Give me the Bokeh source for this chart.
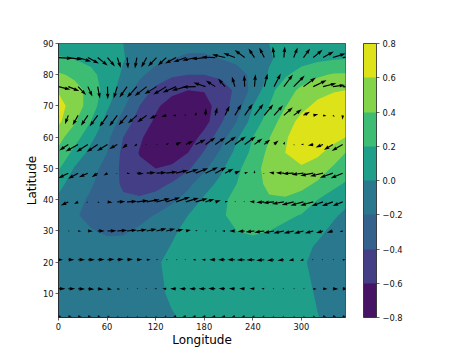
import numpy as np
from bokeh.plotting import figure
from bokeh.embed import file_html
from bokeh.resources import INLINE
from bokeh.models import ColorBar, LinearColorMapper, FixedTicker

levels = [-0.8, -0.6, -0.4, -0.2, 0.0, 0.2, 0.4, 0.6, 0.8]
band_colors = ["#471365", "#433e85", "#33638d", "#2a788e", "#1f9e89", "#3dbc74", "#84d44b", "#dde318"]
x_ticks = [0, 60, 120, 180, 240, 300]
y_ticks = [10, 20, 30, 40, 50, 60, 70, 80, 90]
bar_ticks = levels
bar_labels = ["\u22120.8", "\u22120.6", "\u22120.4", "\u22120.2", "0.0", "0.2", "0.4", "0.6", "0.8"]

field_lons = [0, 20, 40, 60, 80, 100, 120, 140, 160, 180, 200, 220, 240, 260, 280, 300, 320, 340, 354.4]
field_lats = [2.3, 10, 20, 25, 30, 35, 40, 45, 50, 55, 60, 65, 70, 75, 80, 85, 90]

z_02 = [-.04, -.05, -.06, -.06, -.06, -.05, -.03, -.01, .02, .04, .05, .06, .06, .05, .04, .02, .003, -.03, -.04]
z_10 = [-.06, -.07, -.08, -.09, -.08, -.06, -.03, .02, .05, .07, .08, .09, .09, .08, .06, .03, -.01, -.05, -.06]
z_20 = [-.07, -.09, -.11, -.12, -.11, -.08, -.02, .04, .07, .09, .11, .12, .12, .11, .08, .02, -.04, -.07, -.08]
z_25 = [-.08, -.11, -.14, -.16, -.15, -.12, -.07, .01, .05, .09, .12, .14, .15, .14, .11, .05, -.02, -.07, -.09]
z_30 = [-.09, -.14, -.19, -.22, -.22, -.17, -.11, -.03, .05, .11, .16, .20, .22, .20, .15, .11, .04, -.04, -.08]
z_35 = [-.09, -.18, -.25, -.29, -.30, -.26, -.19, -.10, .00, .10, .18, .24, .27, .27, .24, .19, .10, .02, -.03]
z_40 = [-.03, -.14, -.23, -.32, -.37, -.37, -.32, -.24, -.12, .03, .16, .25, .33, .38, .38, .32, .20, .10, .04]
z_45 = [.05, -.08, -.18, -.30, -.43, -.50, -.47, -.38, -.25, -.08, .05, .20, .33, .44, .49, .46, .37, .25, .18]
z_50 = [.22, -.02, -.13, -.27, -.45, -.56, -.60, -.57, -.43, -.24, -.04, .15, .33, .47, .56, .58, .50, .37, .30]
z_55 = [.36, .14, -.06, -.20, -.45, -.61, -.68, -.68, -.60, -.38, -.17, .06, .25, .45, .60, .67, .64, .51, .40]
z_60 = [.46, .29, .05, -.15, -.40, -.57, -.70, -.77, -.73, -.52, -.30, -.03, .20, .39, .58, .70, .72, .67, .60]
z_65 = [.64, .42, .20, -.07, -.28, -.49, -.63, -.74, -.78, -.68, -.43, -.20, .08, .30, .49, .67, .75, .78, .78]
z_70 = [.68, .50, .31, .03, -.17, -.40, -.57, -.68, -.72, -.67, -.52, -.30, .00, .20, .39, .54, .65, .72, .75]
z_75 = [.58, .47, .34, .10, -.09, -.28, -.45, -.55, -.60, -.59, -.50, -.36, -.14, .13, .32, .44, .53, .58, .60]
z_80 = [.43, .36, .25, .12, -.03, -.16, -.28, -.37, -.40, -.40, -.36, -.27, -.16, .02, .17, .30, .37, .42, .42]
z_85 = [.21, .20, .15, .09, .01, -.07, -.14, -.20, -.23, -.23, -.20, -.16, -.09, -.02, .06, .11, .16, .19, .20]
z_90 = [.16, .14, .10, .05, .00, -.05, -.10, -.13, -.15, -.15, -.13, -.09, -.04, .00, .05, .10, .13, .16, .16]
z_rows = [z_02, z_10, z_20, z_25, z_30, z_35, z_40, z_45, z_50, z_55, z_60, z_65, z_70, z_75, z_80, z_85, z_90]

wind_lats = [85.5, 76.2, 67.0, 57.7, 48.5, 39.3, 30.0, 20.8, 11.5, 2.7]
wind_lon_step = 12.1

u_85 = [14, 14, 13, 11, 10, 7.5, 3.5, 1, -2, -5.5, -8.5, -8.5, -11, -12.5, -13.5, -14, -14, -13, -11.5, -10, -6, -5, -1.3, 1, 4, 6.7, 9.3, 10.7, 12.7, 13]
v_85 = [-1, -2, -4, -6, -8, -9, -10.5, -11, -11, -10, -9, -8, -6, -4.5, -3, -1.5, .5, 3, 4.5, 7.5, 9, 10, 10.7, 11, 10, 9, 7.7, 6, 4, 2]
u_76 = [12, 11, 8, 4.5, 2.3, .3, -3.7, -7.7, -10, -12, -12, -13, -13.5, -14, -13.5, -12, -9.5, -7, -3, -.5, 1, 3.3, 6.7, 9, 11, 12.3, 13.3, 13.3, 12.3, 12]
v_76 = [-3, -4.5, -8.5, -10, -12, -12.7, -12, -11, -11, -9.5, -7.5, -8, -6, -4, -.5, 4, 6, 8, 10, 11.5, 12.3, 13, 13, 12, 11, 9, 6.3, 3.3, 1.7, -1]
u_67 = [.3, -3.3, -5.5, -7, -8, -8, -8, -8.5, -9, -9.5, -7, -5, -3.5, -2, .5, .5, 2, 4.5, 6.5, 8, 9, 9, 9, 9, 8, 6.5, 5, 3.5, 2, 0]
v_67 = [-.5, -9, -10, -10.5, -11, -11.5, -11, -10, -8, -7, -3.5, -1.5, -.5, .5, 3.5, 7, 8, 9.5, 11, 11.5, 11.5, 11, 10, 8, 6, 3.5, 1, -.7, -1.5, -4.5]
u_58 = [-10, -9, -12.5, -11.5, -11, -10.5, -8, -5, -3, -1, 1, 3, 5.5, 7.5, 10, 10, 10, 11, 11, 11, 8, 6, 4.5, 1, .5, -2.5, -5.5, -7.5, -9, -11]
v_58 = [-6, -6, -7, -7.5, -7.5, -6.7, -4.5, -4, -2, .3, -.5, 1, 2.3, 3.5, 5, 7, 7, 8, 8, 8, 6, 5, 4, 3, -.5, 0, -1, -3, -5.5, -6.5]
u_48 = [-10, -10, -10, -9, -6, -4, -.7, 3, 7, 9, 10, 11, 12, 12.5, 12.5, 12.5, 11, 8.5, 5.5, 3.5, 0, -1, -5, -8, -11, -12, -13, -13, -13, -12]
v_48 = [-5, -5, -5.5, -4, -4, -2.3, -.3, -.7, -.5, .7, .7, 1.5, 3, 4, 5, 6, 6, 4.5, 2.5, 1, 3, -.5, 1, .5, -.5, -1.5, -2.5, -3, -4.5, -5]
u_39 = [-8, -7.5, -4, -1.5, 2, 5, 8, 10, 11.5, 13, 13.5, 14, 14, 13, 12, 9, 5.5, 3, .5, -.7, -5, -8, -11, -12, -12, -13, -13, -11.5, -11, -10]
v_39 = [-3, -3.5, -2, -.7, -1.2, -.7, .3, .7, 1.5, 2.5, 3.5, 4.5, 5, 4, 3.5, 3, 1.7, 1, .5, .3, .3, -.5, -1, -2, -3, -3.5, -3.5, -4, -4, -4]
u_30 = [.2, .3, 3, 5, 7, 9, 10, 10, 10, 10, 10, 9, 7.5, 5, 2, .5, .2, -3, -5.5, -7, -9, -10, -10.5, -10.5, -10, -9.5, -8.5, -7, -6, -3]
v_30 = [0, 0, -.3, -.3, 0, .3, .7, 1, 1.5, 2, 2.5, 2.3, 1.8, 1, 1, 0, 0, 0, 0, -.5, -1, -1.5, -2, -2.3, -2.3, -2.5, -2.3, -2, -1.7, -1]
u_21 = [4.5, 6, 7, 7, 7, 7, 6.5, 6, 5.5, 4, 2, .5, .4, -.7, -3, -4, -6, -7, -7.5, -8, -8, -8, -7, -6.5, -5, -3.5, -1.5, -.5, .5, 3]
v_21 = [0, 0, 0, 0, .3, .5, .5, .5, .3, 0, 0, 0, 0, 0, 0, 0, 0, 0, 0, -.3, -.3, -.7, -.7, -.7, -.7, -.7, 0, 0, 0, 0]
u_11 = [7, 7, 7, 6.5, 6, 4.5, 3, 1.2, .3, -.7, -2, -4, -6, -6.5, -6.5, -7, -7, -6.5, -6, -5.5, -5, -3, -1.5, -.5, .5, 1, 3.5, 4.5, 5.5, 5.5]
v_11 = [0, 0, -.3, -.5, -.7, -.7, -.5, -.3, 0, 0, 0, 0, 0, 0, 0, 0, .3, .3, .3, .3, .3, .3, 0, 0, 0, 0, -.3, -.3, -.3, 0]
u_02 = [3, 3.5, 3.5, 3.5, 3, 2.5, 1.5, .7, 0, -.3, -1, -2, -3, -3.5, -3.5, -3.5, -3.5, -3.5, -3, -3, -2.5, -2, -1, -.3, .3, 1, 2, 3, 3.5, 3.5]
v_02 = [0] * 30
wind_u = [u_85, u_76, u_67, u_58, u_48, u_39, u_30, u_21, u_11, u_02]
wind_v = [v_85, v_76, v_67, v_58, v_48, v_39, v_30, v_21, v_11, v_02]

FW, FH = 287, 274
XR = (0, 354.4)
YR = (2.3, 90)
px_x = FW / (XR[1] - XR[0])
px_y = FH / (YR[1] - YR[0])

p = figure(width=430, height=340, frame_width=FW, frame_height=FH, x_range=XR, y_range=YR,
           output_backend="svg", toolbar_location=None,
           min_border_left=58, min_border_top=43, min_border_bottom=24, min_border_right=0,
           x_axis_label="Longitude", y_axis_label="Latitude")
p.background_fill_color = "white"
p.grid.visible = False
p.outline_line_color = "#222222"
p.outline_line_width = 0.8

zgrid = np.array(z_rows, dtype=float)
# bands painted lowest first, each one reaching the top level, so no seams show between them
for low, color in zip(levels[:-1], band_colors):
    p.contour(field_lons, field_lats, zgrid, levels=[low, 0.8], fill_color=[color], line_color=None)

# quiver arrows: tail at grid point, polygons built in screen units from (u, v)
SHAFT = 1.15
xs, ys = [], []
for lat, us, vs in zip(wind_lats, wind_u, wind_v):
    for k, (u, v) in enumerate(zip(us, vs)):
        L = float(np.hypot(u, v))
        x0 = k * wind_lon_step
        if L < 1e-6:
            L, u, v = 0.4, 0.4, 0.0
        hl, hw, ha, sw = 5 * SHAFT, 3.2 * SHAFT, 4.5 * SHAFT, SHAFT
        if L < hl:
            f = max(L / hl, 0.25)
            hl, hw, ha, sw = hl * f, hw * f, ha * f, sw * f
            L = max(L, hl)
        along = np.array([0, L - ha, L - hl, L, L - hl, L - ha, 0])
        across = np.array([sw / 2, sw / 2, hw / 2, 0, -hw / 2, -sw / 2, -sw / 2])
        ang = np.arctan2(v, u)
        c, s = np.cos(ang), np.sin(ang)
        xs.append((x0 + (along * c - across * s) / px_x).tolist())
        ys.append((lat + (along * s + across * c) / px_y).tolist())
p.patches(xs, ys, fill_color="black", line_color=None)

for ax in (p.xaxis[0], p.yaxis[0]):
    ax.axis_line_color = "#222222"
    ax.axis_line_width = 0.8
    ax.major_tick_line_color = "#222222"
    ax.major_tick_line_width = 0.7
    ax.major_tick_out = 3
    ax.major_tick_in = 0
    ax.minor_tick_line_color = None
    ax.major_label_text_font = "DejaVu Sans"
    ax.major_label_text_font_size = "8.3px"
    ax.major_label_text_color = "#111111"
    ax.major_label_standoff = 2
    ax.axis_label_text_font = "DejaVu Sans"
    ax.axis_label_text_font_size = "12px"
    ax.axis_label_text_font_style = "normal"
    ax.axis_label_text_color = "black"
p.xaxis[0].ticker = FixedTicker(ticks=x_ticks)
p.yaxis[0].ticker = FixedTicker(ticks=y_ticks)
p.xaxis[0].axis_label_standoff = 0
p.yaxis[0].axis_label_standoff = 1

mapper = LinearColorMapper(palette=band_colors, low=-0.8, high=0.8)
cb = ColorBar(color_mapper=mapper, ticker=FixedTicker(ticks=bar_ticks), width=13, height=FH,
              location=(18, 0), padding=0, margin=0, major_tick_in=0, major_tick_out=3,
              major_tick_line_color="#222222", major_tick_line_width=0.7,
              bar_line_color="#222222", bar_line_width=0.8, border_line_color=None, background_fill_color=None,
              major_label_text_font="DejaVu Sans", major_label_text_font_size="8.3px",
              major_label_text_color="#111111", label_standoff=3,
              major_label_overrides=dict(zip(bar_ticks, bar_labels)))
p.add_layout(cb, "right")

open("out.html", "w").write(file_html(p, INLINE))
